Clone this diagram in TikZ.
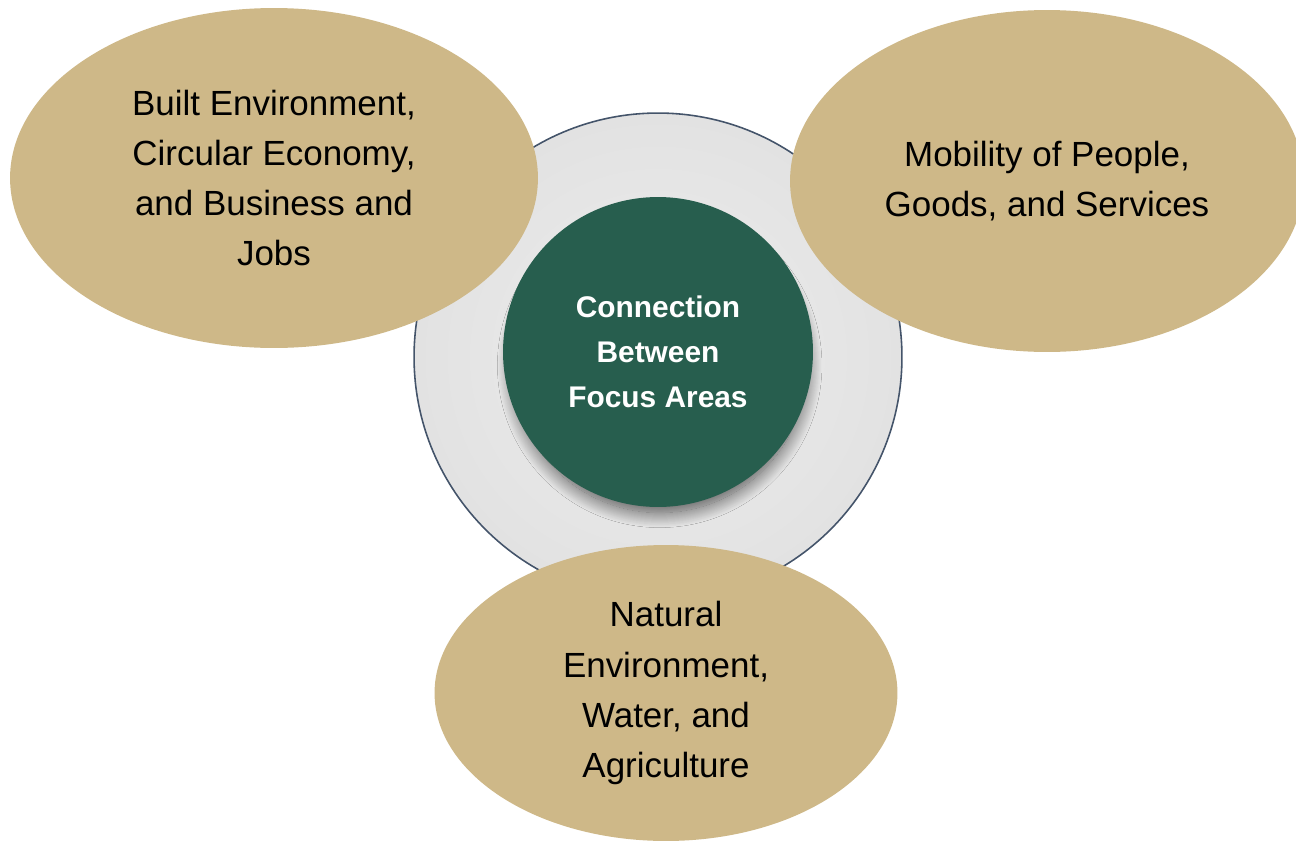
\documentclass[tikz,border=0pt]{standalone}
\usepackage{fontspec}
\setmainfont{Liberation Sans}
\usetikzlibrary{shapes.geometric,shadows.blur}
\definecolor{goldfill}{HTML}{CEB888}
\definecolor{greenfill}{HTML}{275E4E}
\definecolor{rimline}{HTML}{44546A}
\definecolor{ringin}{HTML}{EDEDED}
\definecolor{ringout}{HTML}{E2E2E2}
\begin{document}
\begin{tikzpicture}[x=0.02cm, y=-0.02cm,
        goldnode/.style={ellipse, fill=goldfill, inner sep=0pt, align=center,
            font=\fontsize{19.9}{28.5}\selectfont},
        hubnode/.style={circle, fill=greenfill, text=white, inner sep=0pt,
            minimum size=6.2cm, align=center,
            font=\fontsize{17}{25.6}\selectfont\bfseries,
            blur shadow={shadow xshift=1pt, shadow yshift=-8pt, shadow scale=0.95,
                shadow blur radius=9pt, shadow blur steps=30, shadow opacity=65}},
        ringnode/.style={circle, draw=rimline, line width=0.9pt, inner sep=0pt,
            minimum size=9.76cm, shading=radial, inner color=ringin, outer color=ringout},
        ]
        \useasboundingbox (0,0) rectangle (1296,842);

        % Nodes
        \node[ringnode] (ring) at (658,357) {};
        \node[hubnode]  (hub)  at (658,352) {Connection\\Between\\Focus Areas};

        \node[goldnode, minimum width=10.56cm, minimum height=6.8cm] (built) at (274,178)
            {Built Environment,\\Circular Economy,\\and Business and\\Jobs};
        \node[goldnode, minimum width=10.28cm, minimum height=6.84cm] (mobility) at (1047,181)
            {Mobility of People,\\Goods, and Services};
        \node[goldnode, minimum width=9.26cm, minimum height=5.92cm] (natural) at (666,693)
            {Natural\\Environment,\\Water, and\\Agriculture};

    \end{tikzpicture}
\end{document}
